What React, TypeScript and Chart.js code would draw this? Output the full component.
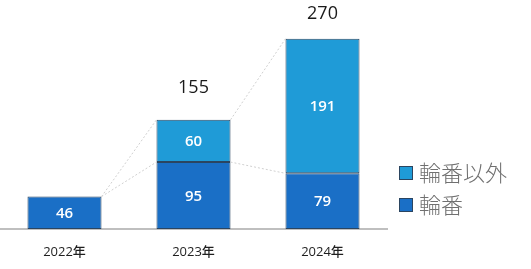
import React, { useEffect, useRef } from "react";
import { Chart, registerables } from "chart.js";

Chart.register(...registerables);

const categories = ["2022年", "2023年", "2024年"];
const rinban = [46, 95, 79];
const rinbanIgai = [0, 60, 191];
const seriesNames = ["輪番", "輪番以外"];

const DARK = "#1a6fc6";
const LIGHT = "#1f9bd7";
const EDGE = "#2b4560";

export default function App() {
  const ref = useRef<HTMLCanvasElement | null>(null);

  useEffect(() => {
    if (!ref.current) return;

    const overlay = {
      id: "overlay",
      afterDatasetsDraw(chart: any) {
        const ctx = chart.ctx;
        const metas = [chart.getDatasetMeta(0), chart.getDatasetMeta(1)];
        ctx.save();
        // series lines
        ctx.strokeStyle = "#d0d0d0";
        ctx.lineWidth = 1;
        ctx.setLineDash([2, 2]);
        metas.forEach((m: any) => {
          for (let i = 0; i < m.data.length - 1; i++) {
            const a = m.data[i];
            const b = m.data[i + 1];
            ctx.beginPath();
            ctx.moveTo(a.x + a.width / 2, a.y);
            ctx.lineTo(b.x - b.width / 2, b.y);
            ctx.stroke();
          }
        });
        ctx.setLineDash([]);
        // value labels
        ctx.fillStyle = "#ffffff";
        ctx.font = "600 15px 'Open Sans', sans-serif";
        ctx.textAlign = "center";
        ctx.textBaseline = "middle";
        metas.forEach((m: any, d: number) => {
          const vals = d === 0 ? rinban : rinbanIgai;
          m.data.forEach((el: any, i: number) => {
            if (!vals[i]) return;
            ctx.fillText(String(vals[i]), el.x, (el.y + el.base) / 2 + 1);
          });
        });
        // totals
        const offsets = [0, 32, 25];
        ctx.fillStyle = "#1a1a1a";
        ctx.font = "18px 'Open Sans', sans-serif";
        metas[1].data.forEach((el: any, i: number) => {
          if (!rinbanIgai[i]) return;
          const total = rinban[i] + rinbanIgai[i];
          ctx.fillText(String(total), el.x, el.y - offsets[i]);
        });
        // legend
        const items = [
          { name: seriesNames[1], color: LIGHT, y: 173 },
          { name: seriesNames[0], color: DARK, y: 205 },
        ];
        ctx.textAlign = "left";
        ctx.font = "300 22px 'Noto Sans CJK JP', sans-serif";
        items.forEach((it) => {
          ctx.fillStyle = it.color;
          ctx.fillRect(400, it.y - 6, 12, 12);
          ctx.strokeStyle = EDGE;
          ctx.lineWidth = 1;
          ctx.strokeRect(399.5, it.y - 6.5, 13, 13);
          ctx.fillStyle = "#707070";
          ctx.fillText(it.name, 419, it.y);
        });
        ctx.restore();
      },
    };

    const chart = new Chart(ref.current, {
      type: "bar",
      data: {
        labels: categories,
        datasets: [
          {
            label: seriesNames[0],
            data: rinban,
            backgroundColor: DARK,
            borderColor: EDGE,
            borderWidth: 1,
            borderSkipped: false,
          },
          {
            label: seriesNames[1],
            data: rinbanIgai,
            backgroundColor: LIGHT,
            borderColor: EDGE,
            borderWidth: (c: any) => (c.raw ? 1 : 0),
            borderSkipped: false,
          },
        ],
      },
      options: {
        responsive: false,
        animation: false,
        layout: { padding: { left: 0, right: 144, top: 0, bottom: 0 } },
        datasets: {
          bar: { categoryPercentage: 1, barPercentage: 0.574 },
        },
        plugins: {
          legend: { display: false },
          tooltip: { enabled: false },
        },
        scales: {
          x: {
            stacked: true,
            grid: { display: false, drawTicks: false },
            border: { display: true, color: "#bfbfbf", width: 2 },
            ticks: {
              padding: 15,
              color: "#1f1f1f",
              font: { size: 13, weight: "500", family: "'Open Sans', 'Noto Sans CJK JP', sans-serif" },
            },
            afterFit: (s: any) => {
              s.height = 40;
            },
          },
          y: {
            stacked: true,
            display: false,
            min: 0,
            max: 325,
          },
        },
      },
      plugins: [overlay],
    });
    return () => chart.destroy();
  }, []);

  return (
    <div style={{ position: "absolute", left: 0, top: 0, width: 531, height: 269, background: "#fff" }}>
      <canvas ref={ref} width={531} height={269} style={{ display: "block" }} />
    </div>
  );
}
